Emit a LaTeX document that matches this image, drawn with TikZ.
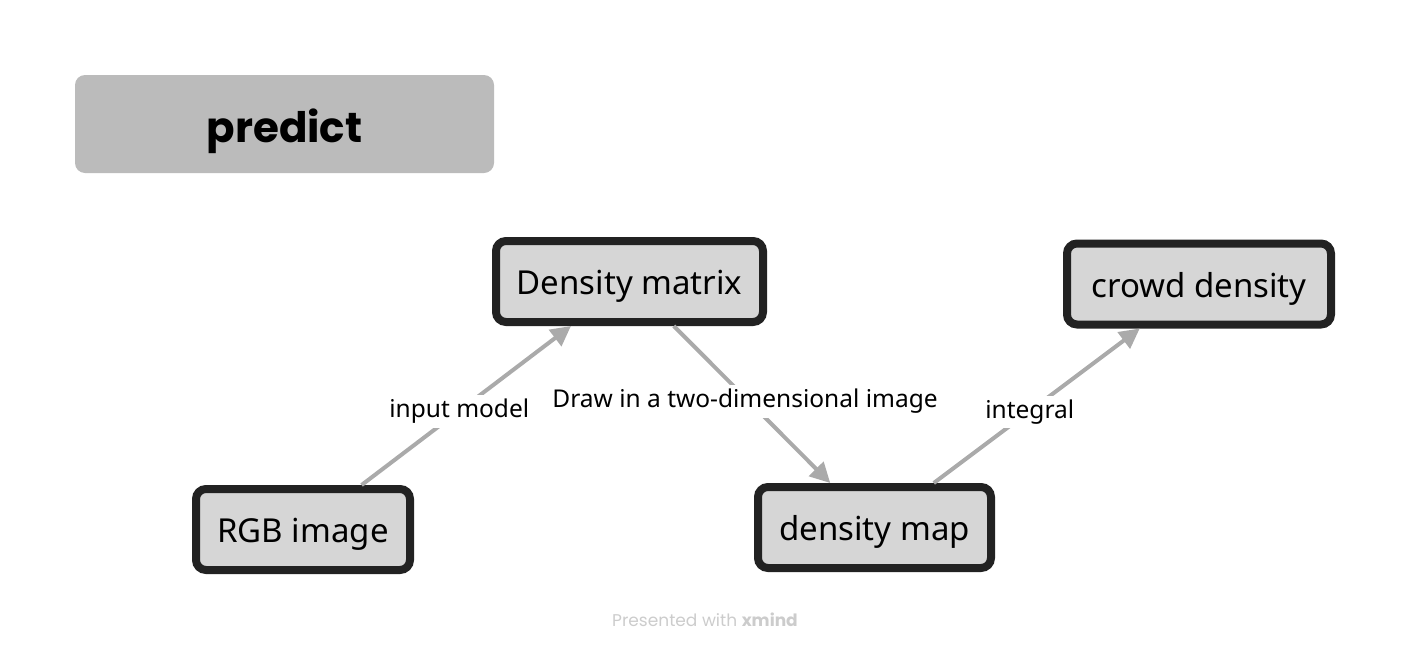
\documentclass[tikz,border=0pt]{standalone}
\usepackage{fontspec}
\setmainfont{Noto Sans}
\newfontfamily\headfont{Poppins}
\usepackage{tikz}
\usetikzlibrary{arrows.meta}
\definecolor{boxfill}{HTML}{D6D6D6}
\definecolor{boxline}{HTML}{222222}
\definecolor{headfill}{HTML}{BBBBBB}
\definecolor{linkgray}{HTML}{AAAAAA}
\definecolor{markgray}{HTML}{CCCCCC}

\begin{document}
\begin{tikzpicture}[x=1pt,y=-1pt,
	topic/.style={draw=boxline, fill=boxfill, line width=8pt, rounded corners=10pt,
		minimum height=81pt, inner sep=0pt, text height=29pt, text depth=3pt,
		font=\fontsize{33}{38}\selectfont},
	link/.style={draw=linkgray, line width=4pt, -{Triangle[length=20pt,width=20pt]}},
	linklabel/.style={fill=white, inner sep=4pt, font=\fontsize{24.5}{29}\selectfont}]
	\useasboundingbox (0,0) rectangle (1411,651);
	\node [fill=headfill, rounded corners=10pt, minimum width=419pt, minimum height=98pt,
		inner sep=0pt, text height=38pt, text depth=2pt,
		font=\headfont\bfseries\fontsize{42}{48}\selectfont] (predict) at (284.5,124) {predict};
	\node [topic, minimum width=267pt] (matrix) at (629.5,281.5) {Density matrix};
	\node [topic, minimum width=264pt] (crowd) at (1199,284) {crowd density};
	\node [topic, minimum width=214pt] (rgb) at (303,529.5) {RGB image};
	\node [topic, minimum width=233pt] (map) at (874.5,527.5) {density map};
	\draw [link] (rgb) -- node [linklabel, xshift=-7pt, yshift=-6pt] {input model} (matrix);
	\draw [link] (matrix) -- node [linklabel, xshift=-7pt, yshift=3pt] {Draw in a two-dimensional image} (map);
	\draw [link] (map) -- node [linklabel, xshift=-7pt, yshift=-6pt] {integral} (crowd);
	\node [text=markgray, font=\headfont\fontsize{17}{20}\selectfont] (mark) at (705,620)
		{Presented with \textbf{xmind}};
\end{tikzpicture}
\end{document}
